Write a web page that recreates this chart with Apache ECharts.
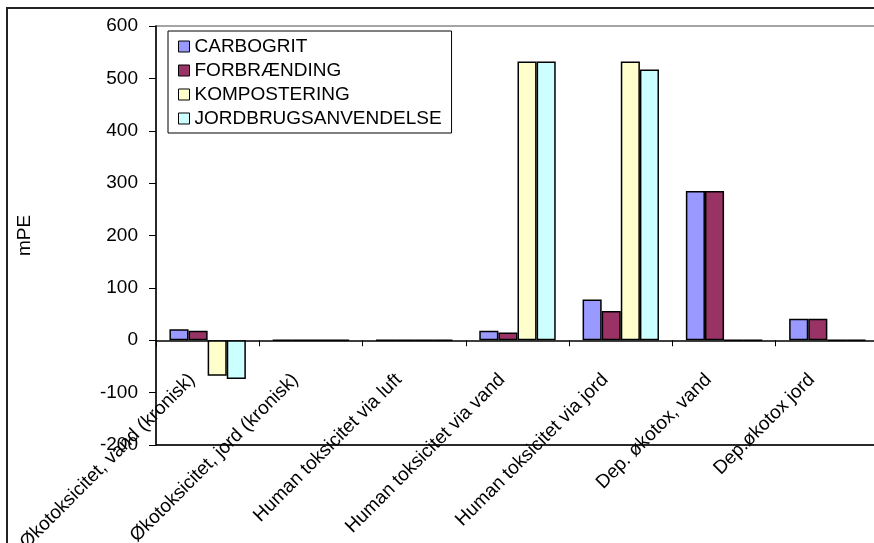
<!DOCTYPE html>
<html>
<head>
<meta charset="utf-8">
<script src="https://cdn.jsdelivr.net/npm/echarts@6/dist/echarts.min.js"></script>
<style>
  html, body { margin: 0; padding: 0; background: #fff; }
  #chart { width: 874px; height: 543px; }
</style>
</head>
<body>
<div id="chart"></div>
<script>
const categories = [
  'Økotoksicitet, vand (kronisk)',
  'Økotoksicitet, jord (kronisk)',
  'Human toksicitet via luft',
  'Human toksicitet via vand',
  'Human toksicitet via jord',
  'Dep. økotox, vand',
  'Dep.økotox jord'
];
const seriesNames = ['CARBOGRIT', 'FORBRÆNDING', 'KOMPOSTERING', 'JORDBRUGSANVENDELSE'];
const carbogrit = [21, 0, 0, 18, 78, 285, 41];
const forbraending = [18, 0, 0, 15, 56, 285, 41];
const kompostering = [-68, 0, 0, 532, 532, 0, 0];
const jordbrugsanvendelse = [-74, 0, 0, 532, 517, 0, 0];
const seriesColors = ['#9999FF', '#993366', '#FFFFCC', '#CCFFFF'];
const yMin = -200, yMax = 600, yStep = 100;

const values = [carbogrit, forbraending, kompostering, jordbrugsanvendelse];
const FONT = 'Liberation Sans, Arial, sans-serif';

const GRID = { left: 156, top: 26, width: 723, height: 419 };
// distance from grid bottom up to the value 0 (category axis crosses at zero)
const zeroOffset = GRID.height * (0 - yMin) / (yMax - yMin);

const chart = echarts.init(document.getElementById('chart'));
chart.setOption({
  animation: false,
  backgroundColor: '#fff',
  graphic: [{
    type: 'rect', silent: true, z: -1,
    shape: { x: 7, y: 8, width: 900, height: 600 },
    style: { fill: 'none', stroke: '#222', lineWidth: 2 }
  }, {
    type: 'line', silent: true, z: 10,
    shape: { x1: GRID.left, y1: GRID.top + GRID.height, x2: GRID.left + GRID.width, y2: GRID.top + GRID.height },
    style: { stroke: '#000', lineWidth: 1.5 }
  }],
  grid: {
    left: GRID.left, top: GRID.top, width: GRID.width, height: GRID.height,
    outerBoundsMode: 'none', containLabel: false,
    show: true, borderColor: '#888', borderWidth: 1.5, backgroundColor: 'transparent'
  },
  legend: {
    orient: 'vertical', left: 168, top: 31,
    backgroundColor: '#fff', borderColor: '#000', borderWidth: 1,
    padding: [6, 10, 5, 10], itemGap: 5, itemWidth: 11, itemHeight: 11, itemTextGap: 8,
    icon: 'rect',
    itemStyle: { borderColor: '#000', borderWidth: 1 },
    textStyle: { fontFamily: FONT, fontSize: 19, color: '#000' },
    data: seriesNames
  },
  xAxis: {
    type: 'category', data: categories, position: 'bottom', offset: -zeroOffset,
    axisLine: { onZero: false, lineStyle: { color: '#000', width: 1.5 } },
    axisTick: { show: true, length: 6, lineStyle: { color: '#000' } },
    axisLabel: { rotate: 45, margin: 21, padding: [0, 22, 0, 0], interval: 0,
                 fontFamily: FONT, fontSize: 19, color: '#000' },
    splitLine: { show: false }
  },
  yAxis: {
    type: 'value', min: yMin, max: yMax, interval: yStep,
    name: 'mPE', nameLocation: 'middle', nameGap: 122, nameRotate: 90,
    nameTextStyle: { fontFamily: FONT, fontSize: 19, color: '#000' },
    axisLine: { show: true, lineStyle: { color: '#000', width: 1.5 } },
    axisTick: { show: true, length: 7, lineStyle: { color: '#000' } },
    axisLabel: { margin: 18, fontFamily: FONT, fontSize: 19, color: '#000' },
    splitLine: { show: false }
  },
  series: seriesNames.map((name, i) => ({
    name, type: 'bar', data: values[i],
    barGap: '0%', barCategoryGap: '26%',
    itemStyle: { color: seriesColors[i], borderColor: '#000', borderWidth: 1.5 }
  }))
});
</script>
</body>
</html>
